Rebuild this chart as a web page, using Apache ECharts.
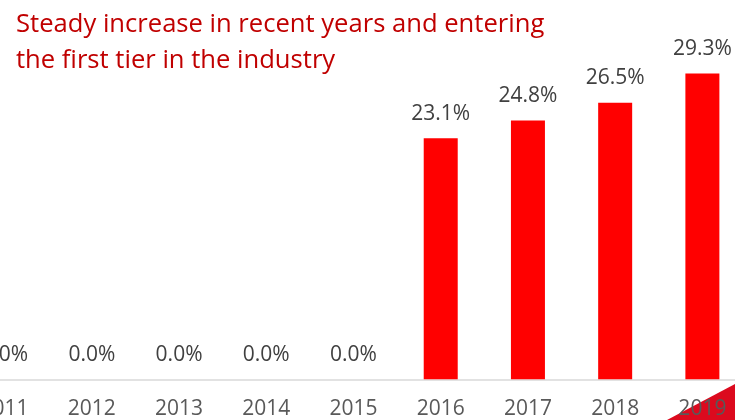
<!DOCTYPE html>
<html>
<head>
<meta charset="utf-8">
<script src="https://cdn.jsdelivr.net/npm/echarts@6/dist/echarts.min.js"></script>
<style>
  html, body { margin: 0; padding: 0; background: #fff; overflow: hidden; width: 735px; height: 420px; }
  /* the plot is wider than the window; its first and last columns run off the edges */
  #chart { position: absolute; left: -39px; top: 0; width: 785px; height: 420px; }
</style>
</head>
<body>
<div id="chart"></div>
<script>
// Share by year (%)
const years = ['2011', '2012', '2013', '2014', '2015', '2016', '2017', '2018', '2019'];
const shares = [0.0, 0.0, 0.0, 0.0, 0.0, 23.1, 24.8, 26.5, 29.3];
const titleLines = ['Steady increase in recent years and entering', 'the first tier in the industry'];

const FONT = '"Open Sans", "Noto Sans", sans-serif';
const OFFSET = 39; // container shift to the left
const chart = echarts.init(document.getElementById('chart'), null, { renderer: 'canvas' });

chart.setOption({
  animation: false,
  backgroundColor: '#ffffff',
  title: {
    text: titleLines.join('\n'),
    left: 11 + OFFSET,
    top: 1,
    textStyle: {
      color: '#c00000',
      fontFamily: FONT,
      fontSize: 25.6,
      fontWeight: 'normal',
      lineHeight: 36.5
    }
  },
  grid: {
    left: 0,
    right: 0,
    top: 66.1,
    bottom: 40.7,
    containLabel: false
  },
  xAxis: {
    type: 'category',
    data: years,
    axisTick: { show: false },
    axisLine: { lineStyle: { color: '#d9d9d9', width: 1.5 } },
    axisLabel: {
      color: '#595959',
      fontFamily: FONT,
      fontSize: 21,
      margin: 19
    }
  },
  yAxis: {
    type: 'value',
    min: 0,
    max: 30,
    show: false,
    splitLine: { show: false }
  },
  graphic: [{
    type: 'polygon',
    z: -1,
    shape: { points: [[667 + OFFSET, 420], [735 + OFFSET, 384], [735 + OFFSET, 420]] },
    style: { fill: '#dc0a1e' }
  }],
  series: [{
    type: 'bar',
    data: shares,
    barWidth: 34,
    itemStyle: { color: '#ff0000' },
    label: {
      show: true,
      position: 'top',
      distance: 14,
      color: '#404040',
      fontFamily: FONT,
      fontSize: 21,
      formatter: p => p.value.toFixed(1) + '%'
    }
  }]
});
</script>
</body>
</html>
